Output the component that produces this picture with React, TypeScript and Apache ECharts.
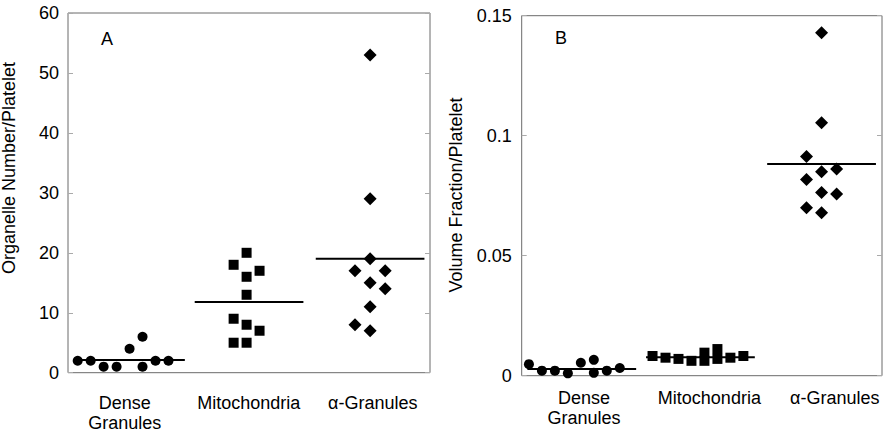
import React, { useEffect, useRef } from "react";
import * as echarts from "echarts";

// ---------- data ----------
const categories = ["Dense\nGranules", "Mitochondria", "α-Granules"];

// Panel A: organelle number / platelet
const denseA = [2, 2, 1, 1, 4, 6, 1, 2, 2];
const denseASlots = [-3.5, -2.5, -1.5, -0.5, 0.5, 1.5, 1.5, 2.5, 3.5];
const mitoA = [18, 20, 17, 16, 13, 9, 8, 7, 5, 5];
const mitoASlots = [-1, 0, 1, 0, 0, -1, 0, 1, -1, 0];
const alphaA = [53, 29, 19, 17, 17, 15, 14, 11, 8, 7];
const alphaASlots = [0, 0, 0, -1, 1, 0, 1, 0, -1, 0];
const meansA = [2.1, 11.8, 19];
const ticksA = { min: 0, max: 60, interval: 10 };

// Panel B: volume fraction / platelet
const denseB = [0.0048, 0.0021, 0.0021, 0.001, 0.0054, 0.0066, 0.0012, 0.0021, 0.0032];
const denseBSlots = [-3.5, -2.5, -1.5, -0.5, 0.5, 1.5, 1.5, 2.5, 3.5];
const mitoB = [0.0082, 0.0075, 0.007, 0.0062, 0.0096, 0.0062, 0.0111, 0.007, 0.0075, 0.0082];
const mitoBSlots = [-3.5, -2.5, -1.5, -0.5, 0.5, 0.5, 1.5, 1.5, 2.5, 3.5];
const alphaB = [0.1429, 0.1054, 0.0913, 0.085, 0.0861, 0.0818, 0.0763, 0.0757, 0.07, 0.0679];
const alphaBSlots = [0, 0, -1, 0, 1, -1, 0, 1, -1, 0];
const meansB = [0.0028, 0.0077, 0.0882];
const ticksB = { min: 0, max: 0.15, interval: 0.05 };

// ---------- layout / style ----------
const FONT = "'Liberation Sans', Arial, sans-serif";
const SLOT_W = 0.105; // circles & squares
const SLOT_W_DIAMOND = 0.122;
const MEAN_HALF = 0.44;
const MEAN_SHIFT = [0.06, 0.02, 0];
const symbols = ["circle", "rect", "diamond"];
const symbolSizes = [10, 10, 13];

function pts(values: number[], slots: number[], cat: number) {
  const w = cat === 2 ? SLOT_W_DIAMOND : SLOT_W;
  return values.map((v, i) => [cat + 1 + slots[i] * w, v]);
}

function panelSeries(
  groups: [number[], number[]][],
  means: number[],
  xIdx: number,
  yIdx: number
) {
  const s: any[] = [];
  groups.forEach(([vals, slots], c) => {
    s.push({
      type: "scatter",
      xAxisIndex: xIdx,
      yAxisIndex: yIdx,
      symbol: symbols[c],
      symbolSize: symbolSizes[c],
      itemStyle: { color: "#000", opacity: 1 },
      data: pts(vals, slots, c),
      clip: false,
      z: 3,
    });
    const cx = c + 1 + MEAN_SHIFT[c];
    s.push({
      type: "line",
      xAxisIndex: xIdx,
      yAxisIndex: yIdx,
      symbol: "none",
      lineStyle: { color: "#000", width: 2 },
      data: [
        [cx - MEAN_HALF, means[c]],
        [cx + MEAN_HALF, means[c]],
      ],
      z: 2,
    });
  });
  return s;
}

function pointAxis(grid: number, min: number, max: number) {
  return {
    type: "value",
    gridIndex: grid,
    position: "bottom",
    min,
    max,
    axisLine: { show: false },
    axisTick: { show: false },
    axisLabel: { show: false },
    splitLine: { show: false },
  };
}

function labelAxis(grid: number, min: number, max: number, margin: number) {
  return {
    type: "value",
    gridIndex: grid,
    position: "bottom",
    min,
    max,
    axisLine: { show: false },
    axisTick: { show: false },
    splitLine: { show: false },
    axisLabel: {
      customValues: [1, 2, 3],
      formatter: (v: number) => categories[Math.round(v) - 1] ?? "",
      fontSize: 18,
      lineHeight: 20,
      color: "#000",
      fontFamily: FONT,
      margin,
    },
  };
}

function yAxis(grid: number, t: any, position: string, showLabels: boolean, margin: number) {
  return {
    type: "value",
    gridIndex: grid,
    position,
    min: t.min,
    max: t.max,
    interval: t.interval,
    axisLine: { show: false },
    axisTick: { show: true, inside: true, length: 5, lineStyle: { color: "#aaa" } },
    splitLine: { show: false },
    axisLabel: {
      show: showLabels,
      fontSize: 18,
      color: "#000",
      fontFamily: FONT,
      margin,
    },
  };
}

export default function App() {
  const ref = useRef<HTMLDivElement>(null);
  useEffect(() => {
    const chart = echarts.init(ref.current!, undefined, { renderer: "svg" });
    chart.setOption({
      animation: false,
      backgroundColor: "#fff",
      grid: [
        { left: 68, top: 13, width: 362, height: 359.7, show: true, borderColor: "#6b6b6b", borderWidth: 1, containLabel: false, outerBoundsMode: "none" },
        { left: 521.7, top: 15.7, width: 360.3, height: 360, show: true, borderColor: "#6b6b6b", borderWidth: 1, containLabel: false, outerBoundsMode: "none" },
      ],
      xAxis: [
        pointAxis(0, 0.554, 3.485),
        labelAxis(0, 0.543, 3.462, 20),
        pointAxis(1, 0.574, 3.489),
        labelAxis(1, 0.503, 3.377, 12),
      ],
      yAxis: [
        yAxis(0, ticksA, "left", true, 9),
        yAxis(0, ticksA, "right", false, 9),
        yAxis(1, ticksB, "left", true, 10),
        yAxis(1, ticksB, "right", false, 10),
      ],
      graphic: [
        {
          type: "text",
          x: 9,
          y: 168,
          rotation: Math.PI / 2,
          style: {
            text: "Organelle Number/Platelet",
            fontSize: 18,
            fontFamily: FONT,
            fill: "#000",
            textAlign: "center",
            textVerticalAlign: "middle",
          },
        },
        {
          type: "text",
          x: 456,
          y: 195,
          rotation: Math.PI / 2,
          style: {
            text: "Volume Fraction/Platelet",
            fontSize: 18,
            fontFamily: FONT,
            fill: "#000",
            textAlign: "center",
            textVerticalAlign: "middle",
          },
        },
        {
          type: "text",
          x: 107,
          y: 39,
          style: { text: "A", fontSize: 18, fontFamily: FONT, fill: "#000", textAlign: "center", textVerticalAlign: "middle" },
        },
        {
          type: "text",
          x: 561,
          y: 38,
          style: { text: "B", fontSize: 18, fontFamily: FONT, fill: "#000", textAlign: "center", textVerticalAlign: "middle" },
        },
      ],
      series: [
        ...panelSeries(
          [
            [denseA, denseASlots],
            [mitoA, mitoASlots],
            [alphaA, alphaASlots],
          ],
          meansA,
          0,
          0
        ),
        ...panelSeries(
          [
            [denseB, denseBSlots],
            [mitoB, mitoBSlots],
            [alphaB, alphaBSlots],
          ],
          meansB,
          2,
          2
        ),
      ],
    });
    return () => chart.dispose();
  }, []);
  return (
    <div
      ref={ref}
      style={{ position: "fixed", left: 0, top: 0, width: 886, height: 432 }}
    />
  );
}
